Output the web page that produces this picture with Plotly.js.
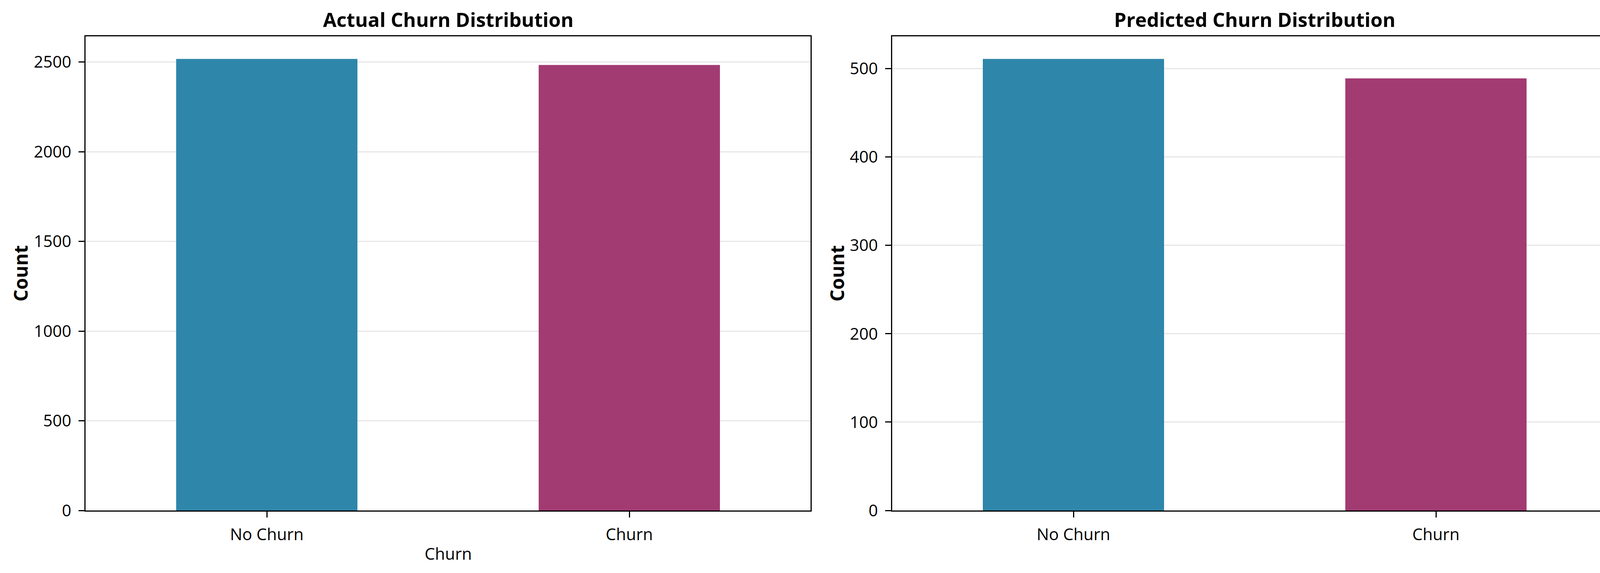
<!DOCTYPE html>
<html>
<head>
<meta charset="utf-8">
<script src="https://cdn.plot.ly/plotly-3.0.1.min.js"></script>
<style>
  html, body { margin: 0; padding: 0; background: #fff; }
  #chart { width: 4169px; height: 1466px; }
</style>
</head>
<body>
<div id="chart"></div>
<script>
// Chart values
const categories = ['No Churn', 'Churn'];
const actualCounts = [2517, 2483];
const predictedCounts = [511, 489];
const barColors = ['#2E86AB', '#A23B72'];
const actualTicks = [0, 500, 1000, 1500, 2000, 2500];
const predictedTicks = [0, 100, 200, 300, 400, 500];

const W = 4169, H = 1466;
const FONT = 'Open Sans, Noto Sans, sans-serif';

// pixel box of each axes -> paper fractions
const px = v => v / W;
const py = v => 1 - v / H;
const AX_TOP = 93, AX_BOT = 1306;
const LEFT_AX = [219, 2075];
const RIGHT_AX = [2284, 4140];

function yAxis(ticks, maxVal, anchor) {
  return {
    anchor,
    domain: [py(AX_BOT), py(AX_TOP)],
    range: [0, maxVal * 1.05],
    tickvals: ticks,
    showgrid: true, gridcolor: 'rgba(176,176,176,0.3)', gridwidth: 3,
    zeroline: false,
    showline: true, mirror: true, linecolor: '#000', linewidth: 3,
    ticks: 'outside', ticklen: 15, tickwidth: 3, tickcolor: '#000',
    ticklabelstandoff: 10,
    tickfont: { family: FONT, size: 42, color: '#000' },
    layer: 'above traces',
    fixedrange: true,
  };
}

function xAxis(box, anchor) {
  return {
    anchor,
    domain: [px(box[0]), px(box[1])],
    type: 'category',
    range: [-0.5, 1.5],
    showgrid: false, zeroline: false,
    showline: true, mirror: true, linecolor: '#000', linewidth: 3,
    ticks: 'outside', ticklen: 15, tickwidth: 3, tickcolor: '#000',
    ticklabelstandoff: 8,
    tickfont: { family: FONT, size: 42, color: '#000' },
    layer: 'above traces',
    fixedrange: true,
  };
}

const traces = [
  { type: 'bar', x: categories, y: actualCounts, width: 0.5,
    marker: { color: barColors, line: { width: 0 } },
    xaxis: 'x', yaxis: 'y', hoverinfo: 'skip' },
  { type: 'bar', x: categories, y: predictedCounts, width: 0.5,
    marker: { color: barColors, line: { width: 0 } },
    xaxis: 'x2', yaxis: 'y2', hoverinfo: 'skip' },
];

const mid = b => px((b[0] + b[1]) / 2);
const axMidY = py((AX_TOP + AX_BOT) / 2);

const annotations = [
  // subplot titles
  { text: '<b>Actual Churn Distribution</b>', x: mid(LEFT_AX), y: py(50),
    xref: 'paper', yref: 'paper', xanchor: 'center', yanchor: 'middle', showarrow: false,
    font: { family: FONT, size: 50, color: '#000' } },
  { text: '<b>Predicted Churn Distribution</b>', x: mid(RIGHT_AX), y: py(50),
    xref: 'paper', yref: 'paper', xanchor: 'center', yanchor: 'middle', showarrow: false,
    font: { family: FONT, size: 50, color: '#000' } },
  // y labels
  { text: '<b>Count</b>', x: px(52), y: axMidY, textangle: -90,
    xref: 'paper', yref: 'paper', xanchor: 'center', yanchor: 'middle', showarrow: false,
    font: { family: FONT, size: 48, color: '#000' } },
  { text: '<b>Count</b>', x: px(2142), y: axMidY, textangle: -90,
    xref: 'paper', yref: 'paper', xanchor: 'center', yanchor: 'middle', showarrow: false,
    font: { family: FONT, size: 48, color: '#000' } },
  // x label (left panel only)
  { text: 'Churn', x: mid(LEFT_AX), y: py(1415),
    xref: 'paper', yref: 'paper', xanchor: 'center', yanchor: 'middle', showarrow: false,
    font: { family: FONT, size: 42, color: '#000' } },
];

Plotly.newPlot('chart', traces, {
  width: W, height: H,
  paper_bgcolor: '#fff', plot_bgcolor: '#fff',
  margin: { l: 0, r: 0, t: 0, b: 0 },
  showlegend: false,
  xaxis: xAxis(LEFT_AX, 'y'),
  yaxis: yAxis(actualTicks, Math.max(...actualCounts), 'x'),
  xaxis2: xAxis(RIGHT_AX, 'y2'),
  yaxis2: yAxis(predictedTicks, Math.max(...predictedCounts), 'x2'),
  annotations,
}, { displayModeBar: false, staticPlot: true });
</script>
</body>
</html>
